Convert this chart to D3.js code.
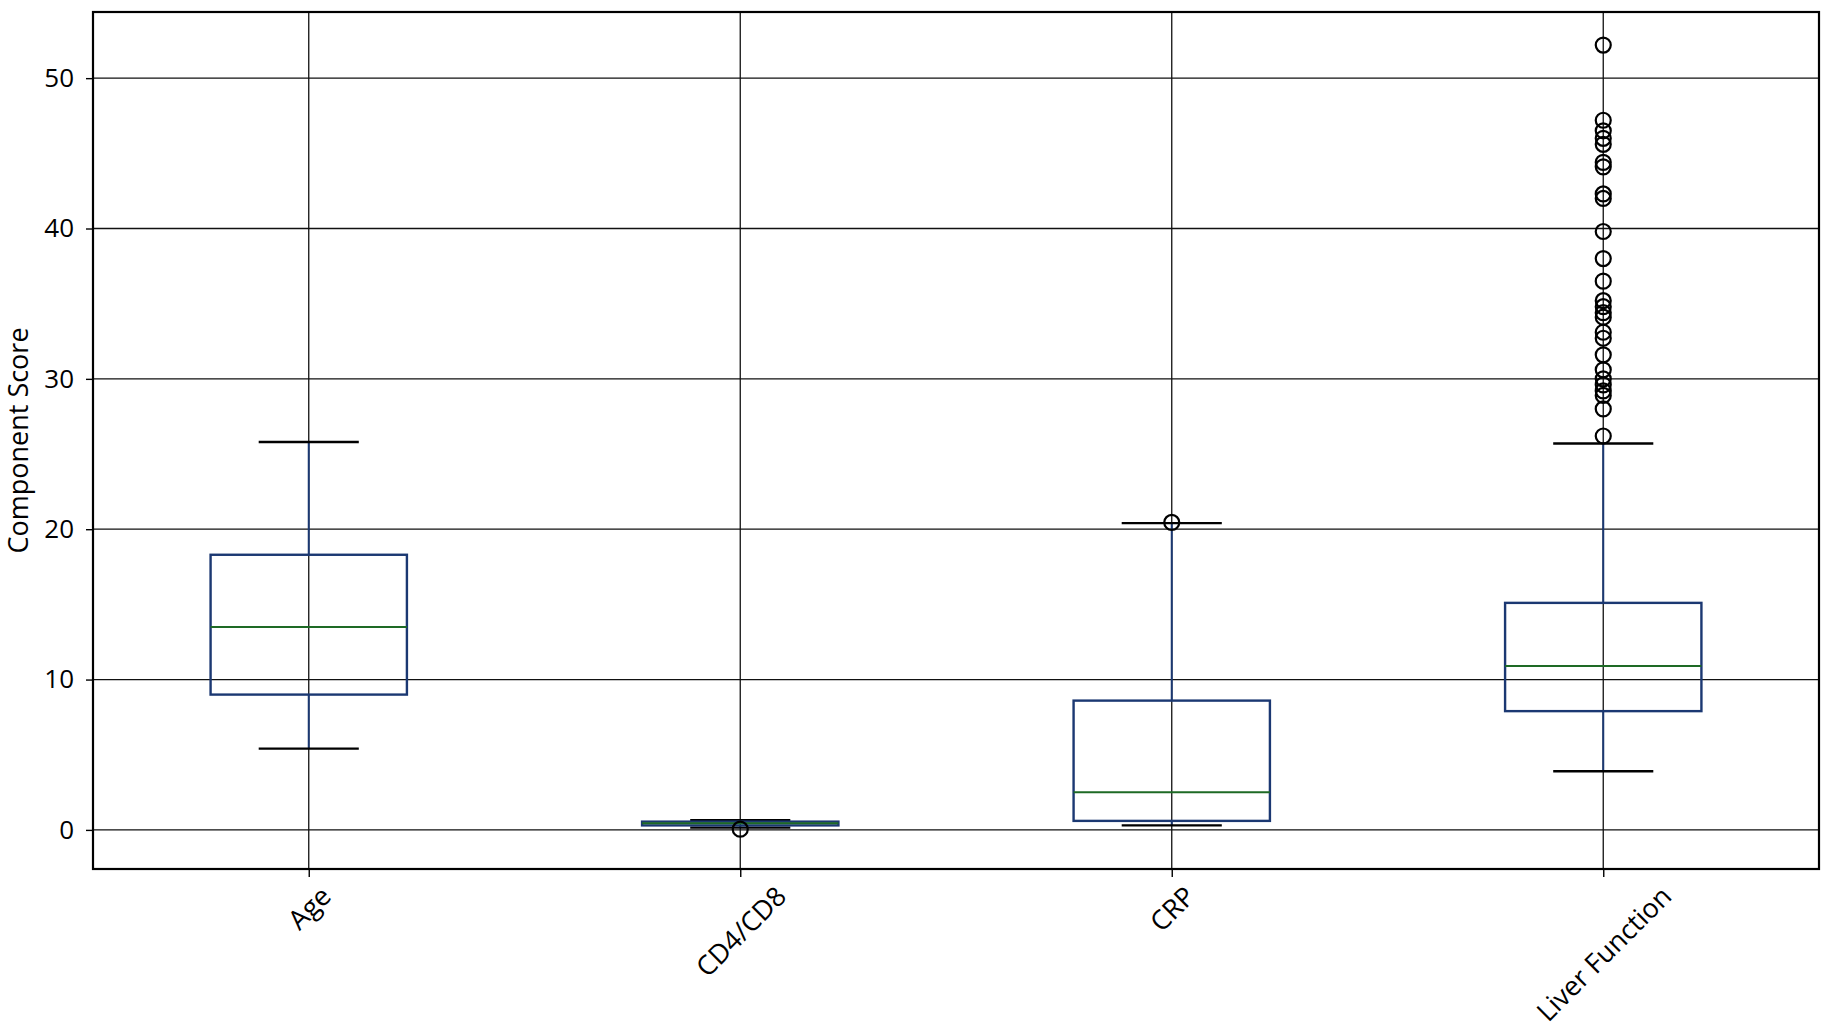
<!DOCTYPE html>
<html>
<head>
<meta charset="utf-8">
<script src="https://cdn.jsdelivr.net/npm/d3@7/dist/d3.min.js"></script>
<style>
  html, body { margin: 0; padding: 0; background: #fff; }
  svg { display: block; }
  text { font-family: "Open Sans", "Noto Sans", sans-serif; fill: #000; }
</style>
</head>
<body>
<svg width="1831" height="1034"></svg>
<script>
// box statistics
var categories = ["Age", "CD4/CD8", "CRP", "Liver Function"];
var whiskerLow = [5.4, 0.15, 0.3, 3.9];
var q1 = [9.0, 0.3, 0.6, 7.9];
var median = [13.5, 0.45, 2.5, 10.9];
var q3 = [18.3, 0.55, 8.6, 15.1];
var whiskerHigh = [25.8, 0.65, 20.4, 25.7];
var outliers = [
    [],
    [0.05],
    [20.45],
    [52.2, 47.2, 46.5, 46.0, 45.6, 44.4, 44.1, 42.3, 42.0, 39.8, 38.0, 36.5,
     35.2, 34.8, 34.4, 34.1, 33.1, 32.7, 31.6, 30.6, 30.0, 29.6, 29.2, 28.9, 28.0, 26.2]
];
var yTicks = [0, 10, 20, 30, 40, 50];

var svg = d3.select("svg"),
    plotLeft = 93, plotRight = 1819, plotTop = 12, plotBottom = 869;

var x = d3.scalePoint()
    .domain(categories)
    .range([plotLeft, plotRight])
    .padding(0.5);

var y = d3.scaleLinear()
    .domain([-2.6, 54.4])
    .range([plotBottom, plotTop]);

var step = x.step(),
    boxW = step * 0.455,
    capW = step * 0.232;

var boxes = categories.map(function (c, i) {
    return { name: c, lo: whiskerLow[i], q1: q1[i], med: median[i], q3: q3[i], hi: whiskerHigh[i], out: outliers[i] };
});

// grid
var grid = svg.append("g").attr("class", "grid");
grid.selectAll("line.h")
    .data(yTicks)
    .enter().append("line")
    .attr("class", "h")
    .attr("x1", plotLeft).attr("x2", plotRight)
    .attr("y1", function (d) { return y(d); })
    .attr("y2", function (d) { return y(d); })
    .attr("stroke", "#111")
    .attr("stroke-width", 1.3);
grid.selectAll("line.v")
    .data(categories)
    .enter().append("line")
    .attr("class", "v")
    .attr("y1", plotTop).attr("y2", plotBottom)
    .attr("x1", function (d) { return x(d); })
    .attr("x2", function (d) { return x(d); })
    .attr("stroke", "#111")
    .attr("stroke-width", 1.3);

// axes
var yAxis = svg.append("g")
    .attr("transform", "translate(" + plotLeft + ",0)")
    .call(d3.axisLeft(y).tickValues(yTicks).tickSizeInner(7).tickSizeOuter(0).tickPadding(12));
yAxis.select(".domain").remove();
yAxis.selectAll(".tick line").attr("stroke", "#000").attr("stroke-width", 1.4);
yAxis.selectAll(".tick text")
    .style("font-size", "26px")
    .style("font-family", "'Open Sans', sans-serif")
    .attr("fill", "#000");

var xAxis = svg.append("g")
    .attr("transform", "translate(0," + plotBottom + ")")
    .call(d3.axisBottom(x).tickSizeInner(8).tickSizeOuter(0).tickFormat(""));
xAxis.select(".domain").remove();
xAxis.selectAll(".tick line").attr("stroke", "#000").attr("stroke-width", 1.4);

// rotated category labels, centred under the ticks
svg.selectAll("text.xlab")
    .data(categories)
    .enter().append("text")
    .attr("class", "xlab")
    .style("font-size", "27px")
    .attr("text-anchor", "middle")
    .attr("dominant-baseline", "central")
    .text(function (d) { return d; })
    .attr("transform", function (d) {
        var w = this.getComputedTextLength(), h = 27;
        var cy = plotBottom + 12 + (w + h) * 0.3536;
        return "translate(" + x(d) + "," + cy + ") rotate(-45)";
    });

svg.append("text")
    .attr("transform", "translate(17," + (plotTop + plotBottom) / 2 + ") rotate(-90)")
    .attr("text-anchor", "middle")
    .attr("dominant-baseline", "central")
    .style("font-size", "27px")
    .text("Component Score");

// boxplots
var bx = svg.append("g").attr("class", "boxes");
var navy = "#1b3872", green = "#1e6a25";

var b = bx.selectAll("g.box")
    .data(boxes)
    .enter().append("g")
    .attr("class", "box");

b.append("line")
    .attr("x1", function (d) { return x(d.name); })
    .attr("x2", function (d) { return x(d.name); })
    .attr("y1", function (d) { return y(d.q3); })
    .attr("y2", function (d) { return y(d.hi); })
    .attr("stroke", navy).attr("stroke-width", 2);
b.append("line")
    .attr("x1", function (d) { return x(d.name); })
    .attr("x2", function (d) { return x(d.name); })
    .attr("y1", function (d) { return y(d.q1); })
    .attr("y2", function (d) { return y(d.lo); })
    .attr("stroke", navy).attr("stroke-width", 2);

b.selectAll("line.cap")
    .data(function (d) { return [{ name: d.name, v: d.lo }, { name: d.name, v: d.hi }]; })
    .enter().append("line")
    .attr("class", "cap")
    .attr("x1", function (d) { return x(d.name) - capW / 2; })
    .attr("x2", function (d) { return x(d.name) + capW / 2; })
    .attr("y1", function (d) { return y(d.v); })
    .attr("y2", function (d) { return y(d.v); })
    .attr("stroke", "#000").attr("stroke-width", 2.3);

b.append("rect")
    .attr("x", function (d) { return x(d.name) - boxW / 2; })
    .attr("width", boxW)
    .attr("y", function (d) { return y(d.q3); })
    .attr("height", function (d) { return y(d.q1) - y(d.q3); })
    .attr("fill", "none")
    .attr("stroke", navy).attr("stroke-width", 2.4);

b.append("line")
    .attr("x1", function (d) { return x(d.name) - boxW / 2; })
    .attr("x2", function (d) { return x(d.name) + boxW / 2; })
    .attr("y1", function (d) { return y(d.med); })
    .attr("y2", function (d) { return y(d.med); })
    .attr("stroke", green).attr("stroke-width", 2);

b.selectAll("circle")
    .data(function (d) { return d.out.map(function (v) { return { name: d.name, v: v }; }); })
    .enter().append("circle")
    .attr("cx", function (d) { return x(d.name); })
    .attr("cy", function (d) { return y(d.v); })
    .attr("r", 7.5)
    .attr("fill", "none")
    .attr("stroke", "#000")
    .attr("stroke-width", 2.2);

// frame
svg.append("rect")
    .attr("x", plotLeft).attr("y", plotTop)
    .attr("width", plotRight - plotLeft).attr("height", plotBottom - plotTop)
    .attr("fill", "none")
    .attr("stroke", "#000")
    .attr("stroke-width", 2.2);
</script>
</body>
</html>
